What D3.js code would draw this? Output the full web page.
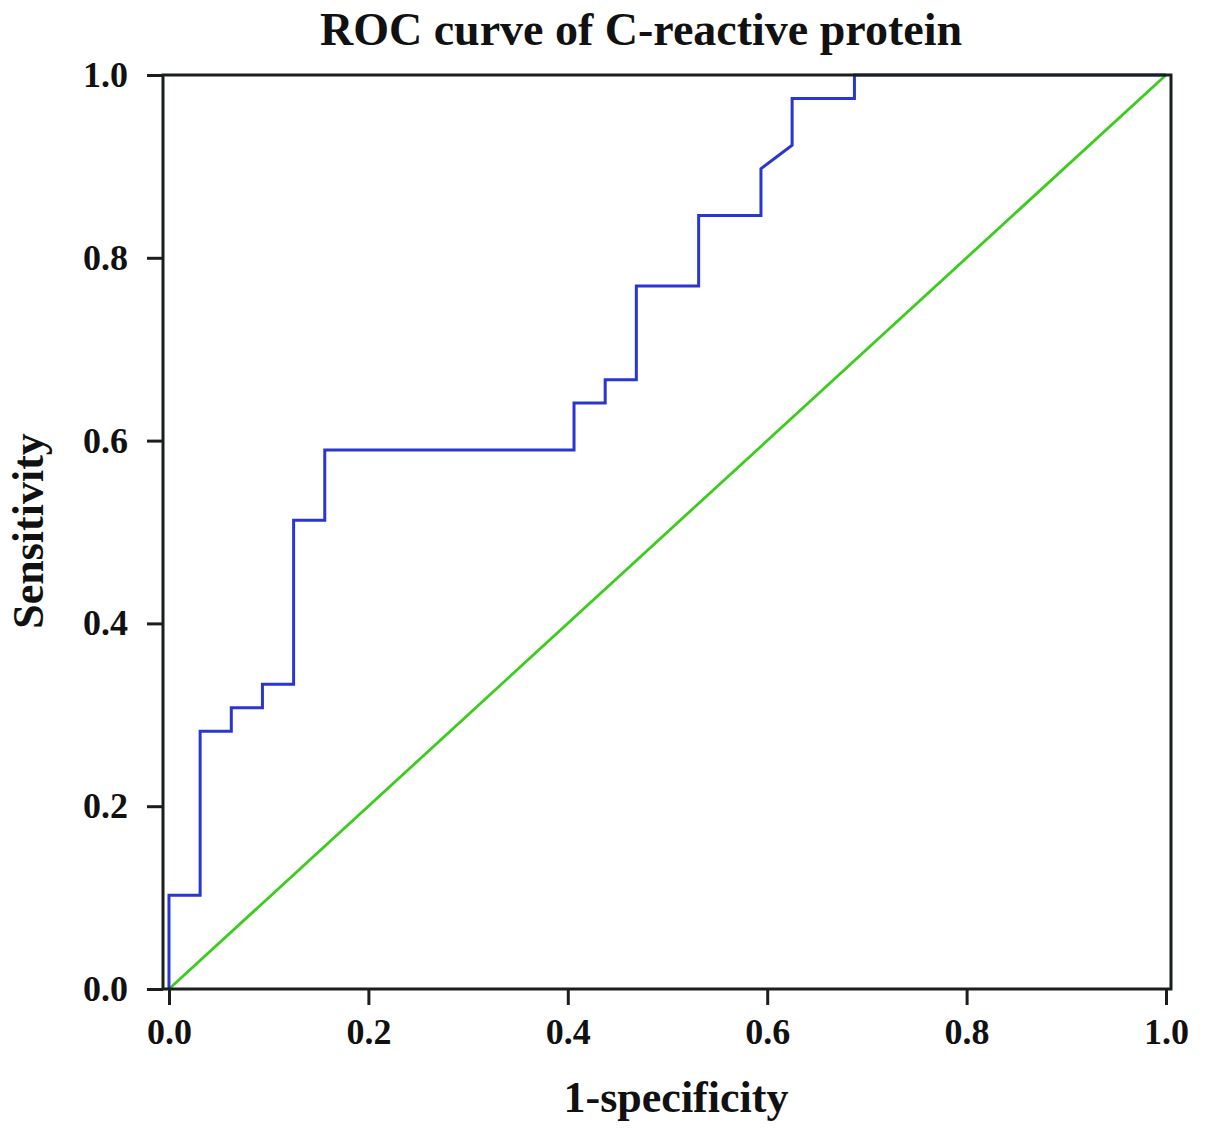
<!DOCTYPE html>
<html>
<head>
<meta charset="utf-8">
<script src="https://cdn.jsdelivr.net/npm/d3@7"></script>
<style>
  html, body { margin: 0; padding: 0; background: #fff; }
  svg text { font-family: "Liberation Serif", "DejaVu Serif", serif; font-weight: bold; fill: #111; }
</style>
</head>
<body>
<script>
// ROC curve vertices (1-specificity, sensitivity)
var fpr = [0, 0, 1/32, 1/32, 2/32, 2/32, 3/32, 3/32, 4/32, 4/32, 5/32, 5/32,
           13/32, 13/32, 14/32, 14/32, 15/32, 15/32, 17/32, 17/32, 19/32, 19/32,
           20/32, 20/32, 22/32, 22/32, 1];
var tpr = [0, 4/39, 4/39, 11/39, 11/39, 12/39, 12/39, 13/39, 13/39, 20/39, 20/39, 23/39,
           23/39, 25/39, 25/39, 26/39, 26/39, 30/39, 30/39, 33/39, 33/39, 35/39,
           36/39, 38/39, 38/39, 1, 1];
var refX = [0, 1];
var refY = [0, 1];
var tickVals = [0, 0.2, 0.4, 0.6, 0.8, 1.0];

var width = 1205, height = 1135;
var svg = d3.select("body").append("svg").attr("width", width).attr("height", height)

var x = d3.scaleLinear().domain([-0.006, 1.005]).range([163, 1171]);
var y = d3.scaleLinear().domain([0, 1]).range([989, 75]);

// axes
var yAxis = d3.axisLeft(y).tickValues(tickVals).tickFormat(d3.format(".1f"))
  .tickSize(16).tickSizeOuter(0).tickPadding(19);
var xAxis = d3.axisBottom(x).tickValues(tickVals).tickFormat(d3.format(".1f"))
  .tickSize(16).tickSizeOuter(0).tickPadding(13);

var gy = svg.append("g").attr("transform", "translate(" + x.range()[0] + ",0)").call(yAxis);
var gx = svg.append("g").attr("transform", "translate(0," + y(0) + ")").call(xAxis);
[gx, gy].forEach(function(g){
  g.select(".domain").remove();
  g.selectAll(".tick line").attr("stroke", "#1a1f1c").attr("stroke-width", 3);
  g.selectAll(".tick text").style("font-size", "36px").attr("fill", "#111");
});

// reference diagonal
svg.append("path")
  .datum(d3.range(refX.length))
  .attr("d", d3.line().x(function(i){ return x(refX[i]); }).y(function(i){ return y(refY[i]); }))
  .attr("fill", "none")
  .attr("stroke", "#3ccc1e")
  .attr("stroke-width", 2.8);

// ROC curve
svg.append("path")
  .datum(d3.range(fpr.length))
  .attr("d", d3.line().x(function(i){ return x(fpr[i]); }).y(function(i){ return y(tpr[i]); }))
  .attr("fill", "none")
  .attr("stroke", "#2a36d2")
  .attr("stroke-width", 3);

// frame
svg.append("rect")
  .attr("x", x.range()[0]).attr("y", y(1))
  .attr("width", x.range()[1] - x.range()[0])
  .attr("height", y(0) - y(1))
  .attr("fill", "none")
  .attr("stroke", "#1a1f1c")
  .attr("stroke-width", 3);

// titles
svg.append("text")
  .attr("x", 641).attr("y", 45)
  .attr("text-anchor", "middle")
  .style("font-size", "46px")
  .text("ROC curve of C-reactive protein");

svg.append("text")
  .attr("x", 676).attr("y", 1112)
  .attr("text-anchor", "middle")
  .style("font-size", "44px")
  .text("1-specificity");

svg.append("text")
  .attr("transform", "translate(43,531) rotate(-90)")
  .attr("text-anchor", "middle")
  .style("font-size", "44px")
  .text("Sensitivity");
</script>
</body>
</html>
